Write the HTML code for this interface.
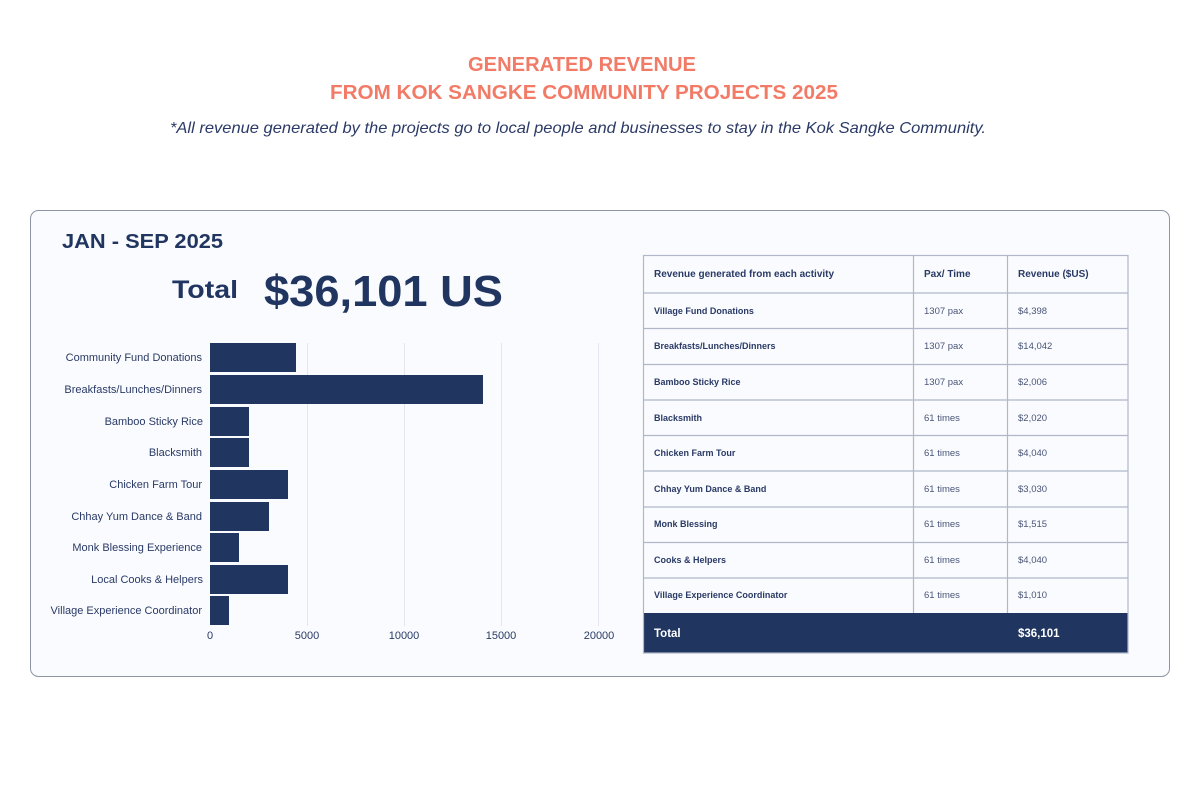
<!DOCTYPE html>
<html><head><meta charset="utf-8"><style>
html,body{margin:0;padding:0;background:#fff;}
svg{display:block;font-family:"Liberation Sans",sans-serif;}
</style></head><body>
<svg width="1200" height="800" viewBox="0 0 1200 800" xmlns="http://www.w3.org/2000/svg">
<rect width="1200" height="800" fill="#fff"/>
<g fill="#f27b67" font-weight="bold" font-size="20" text-anchor="middle">
<text x="582" y="71" textLength="228" lengthAdjust="spacingAndGlyphs">GENERATED REVENUE</text>
<text x="584" y="99" textLength="508" lengthAdjust="spacingAndGlyphs">FROM KOK SANGKE COMMUNITY PROJECTS 2025</text>
</g>
<text x="170" y="133" font-size="16" font-style="italic" fill="#2b3a66" textLength="816" lengthAdjust="spacingAndGlyphs">*All revenue generated by the projects go to local people and businesses to stay in the Kok Sangke Community.</text>
<rect x="30.5" y="210.5" width="1139" height="466" rx="8" fill="#f9fbfe" stroke="#8e94a3" stroke-width="1"/>
<g fill="#203560" font-weight="bold">
<text x="62" y="248" font-size="20" textLength="161" lengthAdjust="spacingAndGlyphs">JAN - SEP 2025</text>
<text x="172" y="298" font-size="25" textLength="66" lengthAdjust="spacingAndGlyphs">Total</text>
<text x="264" y="306" font-size="44" textLength="239" lengthAdjust="spacingAndGlyphs">$36,101 US</text>
</g>
<g stroke="#e3e6ee" stroke-width="1">
<line x1="307.5" y1="343" x2="307.5" y2="626"/>
<line x1="404.5" y1="343" x2="404.5" y2="626"/>
<line x1="501.5" y1="343" x2="501.5" y2="626"/>
<line x1="598.5" y1="343" x2="598.5" y2="626"/>
</g>
<g fill="#203560">
<rect x="210" y="343" width="86" height="29"/>
<rect x="210" y="375" width="273" height="29"/>
<rect x="210" y="407" width="39" height="29"/>
<rect x="210" y="438" width="39" height="29"/>
<rect x="210" y="470" width="78" height="29"/>
<rect x="210" y="502" width="59" height="29"/>
<rect x="210" y="533" width="29" height="29"/>
<rect x="210" y="565" width="78" height="29"/>
<rect x="210" y="596" width="19" height="29"/>
</g>
<g fill="#2a3a66" font-size="11" text-anchor="end">
<text x="202" y="361">Community Fund Donations</text>
<text x="202" y="393">Breakfasts/Lunches/Dinners</text>
<text x="203" y="425">Bamboo Sticky Rice</text>
<text x="202" y="456">Blacksmith</text>
<text x="202" y="488">Chicken Farm Tour</text>
<text x="202" y="520">Chhay Yum Dance &amp; Band</text>
<text x="202" y="551">Monk Blessing Experience</text>
<text x="203" y="583">Local Cooks &amp; Helpers</text>
<text x="202" y="614">Village Experience Coordinator</text>
</g>
<g fill="#2a3a66" font-size="11" text-anchor="middle">
<text x="210" y="639">0</text>
<text x="307" y="639">5000</text>
<text x="404" y="639">10000</text>
<text x="501" y="639">15000</text>
<text x="599" y="639">20000</text>
</g>
<rect x="643" y="613" width="485" height="40" fill="#203560"/>
<g stroke="#b0b7c9" stroke-width="1.2" fill="none">
<rect x="643.5" y="255.5" width="484.5" height="397.5"/>
<line x1="913.5" y1="255" x2="913.5" y2="613"/>
<line x1="1007.5" y1="255" x2="1007.5" y2="613"/>
<line x1="643" y1="293" x2="1128" y2="293"/>
<line x1="643" y1="328.5" x2="1128" y2="328.5"/>
<line x1="643" y1="364.5" x2="1128" y2="364.5"/>
<line x1="643" y1="400" x2="1128" y2="400"/>
<line x1="643" y1="435.5" x2="1128" y2="435.5"/>
<line x1="643" y1="471" x2="1128" y2="471"/>
<line x1="643" y1="507" x2="1128" y2="507"/>
<line x1="643" y1="542.5" x2="1128" y2="542.5"/>
<line x1="643" y1="578" x2="1128" y2="578"/>
</g>
<g fill="#2a3a66" font-size="10">
<g font-weight="bold">
<text x="654" y="277">Revenue generated from each activity</text>
<text x="924" y="277">Pax/ Time</text>
<text x="1018" y="277">Revenue ($US)</text>
<text x="654" y="314" font-size="9">Village Fund Donations</text>
<text x="654" y="349" font-size="9">Breakfasts/Lunches/Dinners</text>
<text x="654" y="385" font-size="9">Bamboo Sticky Rice</text>
<text x="654" y="421" font-size="9">Blacksmith</text>
<text x="654" y="456" font-size="9">Chicken Farm Tour</text>
<text x="654" y="492" font-size="9">Chhay Yum Dance &amp; Band</text>
<text x="654" y="527" font-size="9">Monk Blessing</text>
<text x="654" y="563" font-size="9">Cooks &amp; Helpers</text>
<text x="654" y="598" font-size="9">Village Experience Coordinator</text>
</g>
<g font-size="9.5" fill="#4a5578">
<text x="924" y="314">1307 pax</text><text x="1018" y="314">$4,398</text>
<text x="924" y="349">1307 pax</text><text x="1018" y="349">$14,042</text>
<text x="924" y="385">1307 pax</text><text x="1018" y="385">$2,006</text>
<text x="924" y="421">61 times</text><text x="1018" y="421">$2,020</text>
<text x="924" y="456">61 times</text><text x="1018" y="456">$4,040</text>
<text x="924" y="492">61 times</text><text x="1018" y="492">$3,030</text>
<text x="924" y="527">61 times</text><text x="1018" y="527">$1,515</text>
<text x="924" y="563">61 times</text><text x="1018" y="563">$4,040</text>
<text x="924" y="598">61 times</text><text x="1018" y="598">$1,010</text>
</g>
</g>
<g fill="#fff" font-weight="bold" font-size="11.5">
<text x="654" y="637">Total</text>
<text x="1018" y="637">$36,101</text>
</g>
</svg>
</body></html>
